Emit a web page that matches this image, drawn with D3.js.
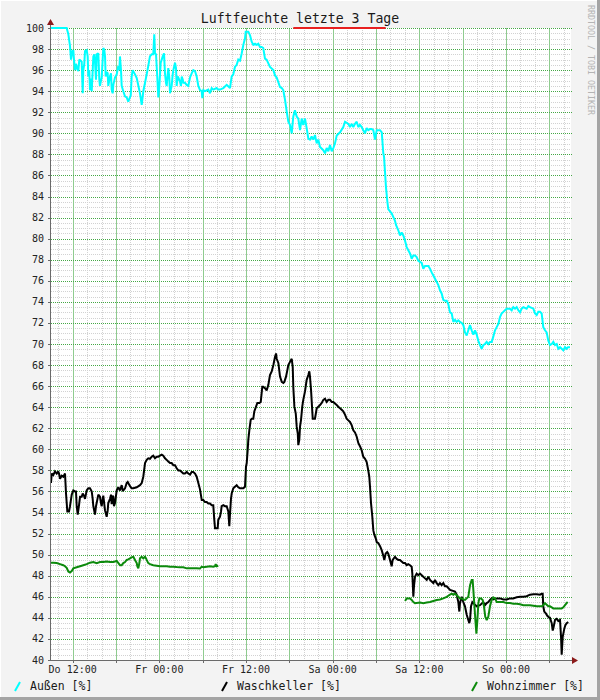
<!DOCTYPE html>
<html><head><meta charset="utf-8">
<script src="https://cdn.jsdelivr.net/npm/d3@7"></script>
<style>html,body{margin:0;padding:0;background:#f3f3f3;}svg{display:block;}</style>
</head><body>
<script>
// ---- data (hours since Do 09:00, value in %) ----
const title = "Luftfeuchte letzte 3 Tage";
const yTicks = [40,42,44,46,48,50,52,54,56,58,60,62,64,66,68,70,72,74,76,78,80,82,84,86,88,90,92,94,96,98,100];
const dayNames = ["So","Mo","Di","Mi","Do","Fr","Sa"];
const seriesNames = ["Außen [%]", "Waschkeller [%]", "Wohnzimmer [%]"];
const seriesColors = ["#00ffff", "#000000", "#0c8a0c"];
const markerColor = "#e82020";

const aussen = [[0,100],[2.17,100],[2.40,99.4],[2.63,98.3],[2.77,97.0],[2.95,97.8],[3.09,97.9],[3.18,97.0],[3.32,96.0],[3.46,96.6],[3.64,96.1],[3.78,95.9],[3.92,97.0],[4.25,96.8],[4.39,93.8],[4.47,96.0],[4.61,96.6],[4.71,97.8],[4.94,97.9],[5.08,97.3],[5.16,95.4],[5.30,96.0],[5.40,94.1],[5.50,95.2],[5.64,94.0],[5.86,97.3],[6.00,97.5],[6.09,96.8],[6.23,95.1],[6.33,97.5],[6.55,97.6],[6.69,95.1],[6.78,94.5],[6.92,95.0],[7.02,95.3],[7.24,98.1],[7.38,97.9],[7.48,97.3],[7.57,95.4],[7.71,95.8],[7.85,95.7],[7.93,94.5],[8.17,95.4],[8.31,95.7],[8.40,94.15],[8.54,93.8],[8.63,94.6],[8.86,95.3],[9.10,95.6],[9.32,96.4],[9.46,96.0],[9.55,97.3],[9.69,96.0],[9.79,94.5],[10.01,94.0],[10.25,93.5],[10.48,93.4],[10.70,93.0],[11.04,93.6],[11.17,95.4],[11.31,96.0],[11.63,95.6],[11.87,95.25],[12.32,93.8],[12.56,92.7],[12.70,93.5],[12.78,94.0],[13.02,94.8],[13.25,95.6],[13.47,96.4],[13.70,97.3],[13.94,97.5],[14.16,97.5],[14.30,99.4],[14.40,97.6],[14.54,97.5],[14.72,95.3],[14.86,93.4],[15.00,94.5],[15.19,96.7],[15.33,97.0],[15.47,97.3],[15.65,97.6],[15.78,95.7],[15.92,94.8],[16.02,94.5],[16.16,95.6],[16.24,96.2],[16.38,95.3],[16.48,93.8],[16.71,94.5],[16.85,95.6],[16.94,96.0],[17.17,96.7],[17.31,96.2],[17.40,94.5],[17.54,95.4],[17.63,95.3],[17.86,94.9],[18.00,94.5],[18.10,95.4],[18.24,95.1],[18.33,94.8],[18.55,94.8],[18.79,94.6],[19.01,94.5],[19.25,95.3],[19.48,95.7],[19.70,96.0],[19.94,95.9],[20.17,95.4],[20.40,94.5],[20.63,94.1],[20.87,94.0],[20.95,93.35],[21.09,94.1],[21.32,94.0],[21.78,94.15],[22.02,93.8],[22.25,94.3],[22.47,94.15],[22.94,94.3],[23.16,94.15],[23.40,94.15],[23.86,94.3],[24.33,94.6],[24.78,94.3],[25.02,95.4],[25.24,95.6],[25.47,96.3],[25.71,96.5],[25.93,97.0],[26.17,96.9],[26.41,97.6],[26.63,98.4],[26.86,99.0],[26.96,99.65],[27.32,99.65],[27.56,99.3],[27.79,98.7],[28.01,98.4],[28.25,98.5],[28.48,98.4],[28.70,98.5],[28.94,98.2],[29.17,98.2],[29.39,98.1],[29.63,97.1],[29.86,97.0],[30.32,96.3],[30.79,96.0],[31.02,95.5],[31.25,95.3],[31.71,94.4],[31.95,94.3],[32.16,94.1],[32.40,93.2],[32.64,92.05],[32.86,91.1],[33.09,90.8],[33.33,90.0],[33.55,91.6],[33.78,92.2],[34.02,91.6],[34.24,91.4],[34.48,90.3],[34.71,91.4],[34.93,90.8],[35.17,91.4],[35.40,90.5],[35.63,89.5],[35.86,89.4],[36.09,89.7],[36.32,89.4],[36.55,89.84],[36.79,89.05],[37.01,89.4],[37.25,88.7],[37.71,88.4],[37.94,88.1],[38.17,88.6],[38.40,88.3],[38.63,88.9],[38.87,88.3],[39.09,88.6],[39.32,89.05],[39.56,89.8],[40.02,90.1],[40.47,90.6],[40.71,91.1],[41.17,90.9],[41.40,90.6],[41.64,90.9],[41.86,90.6],[42.09,90.9],[42.33,91.1],[42.55,90.6],[42.78,90.8],[43.02,90.6],[43.24,90.3],[43.48,90.0],[43.71,90.5],[43.93,90.3],[44.17,90.4],[44.41,90.4],[44.63,90.3],[44.86,89.4],[45.10,90.3],[45.56,90.3],[45.80,90.1],[46.01,88.1],[46.11,87.8],[46.38,84.9],[46.56,83.6],[46.70,82.8],[46.94,82.6],[47.17,82.4],[47.40,82.05],[47.63,81.7],[47.77,81.3],[48.09,80.8],[48.32,80.3],[48.55,80.6],[48.78,80.3],[49.02,79.8],[49.25,79.2],[49.47,78.9],[49.71,78.6],[49.94,78.1],[50.17,78.4],[50.40,78.4],[50.63,78.25],[50.86,77.9],[51.09,77.8],[51.33,77.7],[51.55,77.15],[51.79,77.4],[52.24,77.4],[52.48,77.15],[52.71,76.8],[52.94,76.5],[53.17,76.2],[53.40,75.9],[53.63,75.6],[53.86,75.1],[54.09,74.8],[54.32,74.2],[54.55,74.1],[54.79,74.1],[55.01,73.8],[55.25,73.0],[55.48,72.9],[55.71,72.1],[55.94,72.3],[56.17,72.1],[56.40,72.25],[56.63,72.1],[56.87,72.0],[57.09,71.8],[57.32,71.1],[57.56,70.8],[57.78,71.3],[58.02,71.8],[58.25,71.3],[58.48,70.9],[58.71,71.3],[58.94,70.9],[59.17,70.3],[59.40,69.9],[59.63,69.55],[59.86,69.9],[60.09,70.0],[60.33,70.2],[60.55,70.0],[60.78,70.2],[61.02,70.2],[61.24,70.7],[61.48,71.3],[61.71,71.6],[61.94,71.9],[62.17,72.55],[62.40,72.9],[62.63,73.05],[62.86,73.2],[63.09,73.35],[63.55,73.35],[63.79,73.2],[64.01,73.5],[64.25,73.35],[64.48,73.5],[64.71,73.2],[64.94,73.0],[65.17,73.35],[65.40,73.5],[65.86,73.35],[66.09,73.6],[66.32,73.5],[66.79,73.35],[67.02,72.9],[67.25,72.75],[67.47,73.05],[67.71,73.05],[67.94,72.9],[68.16,71.6],[68.40,71.3],[68.63,71.1],[68.86,70.3],[69.09,69.9],[69.33,70.0],[69.55,70.2],[69.79,69.9],[70.02,70.0],[70.24,69.55],[70.48,69.7],[70.71,69.55],[70.94,69.4],[71.17,69.7],[71.40,69.55],[71.59,69.7],[71.86,69.7]];

const waschkeller = [[0,56.8],[0.10,57.7],[0.32,57.55],[0.55,57.9],[0.79,57.7],[1.01,57.9],[1.11,57.7],[1.25,57.2],[1.48,57.5],[1.70,57.4],[1.94,57.7],[2.08,55.8],[2.26,54.1],[2.49,54.1],[2.63,54.6],[2.87,55.7],[3.09,56.1],[3.32,56.0],[3.46,56.0],[3.56,54.6],[3.70,53.8],[3.88,54.7],[4.02,55.5],[4.25,55.5],[4.39,55.8],[4.57,55.6],[4.71,55.3],[4.94,56.1],[5.16,56.3],[5.40,56.3],[5.64,56.0],[5.77,55.3],[5.86,54.6],[6.09,53.8],[6.23,54.6],[6.41,55.2],[6.55,55.7],[6.78,55.5],[6.92,54.9],[7.02,54.6],[7.16,55.3],[7.24,55.6],[7.48,54.2],[7.71,53.6],[7.85,54.2],[7.93,54.9],[8.17,55.3],[8.31,55.7],[8.40,54.8],[8.54,55.6],[8.63,55.5],[8.72,54.6],[8.86,54.9],[9.10,56.1],[9.32,56.4],[9.55,56.1],[9.69,56.4],[9.79,56.6],[9.93,56.1],[10.01,56.1],[10.25,56.3],[10.48,56.8],[10.62,56.9],[10.70,56.8],[10.94,56.5],[11.17,56.3],[11.40,56.3],[11.87,56.4],[12.32,56.6],[12.56,56.8],[12.78,57.4],[13.02,58.7],[13.25,59.0],[13.47,59.15],[13.71,59.1],[13.94,59.3],[14.16,59.4],[14.40,59.15],[14.63,59.3],[14.86,59.3],[15.09,59.4],[15.33,59.5],[15.55,59.4],[15.78,59.15],[16.02,59.0],[16.24,58.85],[16.48,58.7],[16.71,58.7],[16.94,58.5],[17.17,58.5],[17.40,58.2],[17.63,58.0],[17.86,58.0],[18.10,57.85],[18.32,57.7],[18.55,57.7],[18.79,57.85],[19.01,57.7],[19.25,57.6],[19.48,57.85],[19.70,57.85],[19.94,57.7],[20.17,57.4],[20.40,56.8],[20.63,56.2],[20.87,55.2],[21.09,55.2],[21.32,55.0],[21.56,55.0],[21.78,54.85],[22.02,54.85],[22.25,54.7],[22.47,54.7],[22.61,53.3],[22.71,52.5],[22.94,52.5],[23.08,52.5],[23.16,53.3],[23.40,53.6],[23.54,54.1],[23.63,54.6],[23.86,54.7],[24.09,54.6],[24.33,54.6],[24.55,54.1],[24.69,52.7],[24.78,53.8],[24.92,55.3],[25.02,55.8],[25.24,56.3],[25.47,56.45],[25.71,56.6],[25.93,56.4],[26.17,56.3],[26.63,56.3],[26.86,56.45],[27.00,58.35],[27.10,58.7],[27.24,60.0],[27.32,60.9],[27.46,61.8],[27.65,62.8],[27.79,62.9],[28.01,62.9],[28.15,63.6],[28.39,64.05],[28.57,64.4],[28.85,64.4],[29.04,64.5],[29.26,65.95],[29.39,65.95],[29.63,65.8],[29.86,65.6],[30.09,66.1],[30.32,67.05],[30.56,67.4],[30.79,68.0],[31.02,68.8],[31.16,69.1],[31.25,68.6],[31.48,68.2],[31.71,66.9],[31.95,66.4],[32.17,66.3],[32.31,66.4],[32.54,66.9],[32.72,67.5],[32.86,68.0],[33.09,68.3],[33.33,68.6],[33.47,67.8],[33.55,65.9],[33.70,64.05],[33.89,63.4],[34.02,62.15],[34.17,61.5],[34.24,60.4],[34.38,60.9],[34.48,62.15],[34.62,62.8],[34.79,64.05],[34.93,64.7],[35.17,65.5],[35.40,66.6],[35.63,67.05],[35.77,67.4],[35.86,66.9],[36.01,65.6],[36.14,64.05],[36.24,62.9],[36.42,62.9],[36.55,62.9],[36.79,63.9],[37.01,64.05],[37.25,64.2],[37.48,64.4],[37.71,64.7],[37.94,64.8],[38.17,64.5],[38.40,64.7],[38.63,64.7],[38.87,64.5],[39.09,64.5],[39.32,64.35],[39.56,64.2],[39.78,64.05],[40.02,63.9],[40.25,63.75],[40.47,63.6],[40.71,63.3],[40.94,62.9],[41.17,62.75],[41.40,62.6],[41.63,62.3],[41.86,61.8],[42.09,61.6],[42.33,61.2],[42.55,60.6],[42.78,60.3],[43.02,59.9],[43.24,59.3],[43.48,59.1],[43.71,58.8],[43.93,58.0],[44.07,57.4],[44.17,56.45],[44.31,54.9],[44.49,53.6],[44.63,52.3],[44.77,51.9],[44.96,51.55],[45.10,51.2],[45.33,51.1],[45.56,50.8],[45.80,50.4],[46.01,49.9],[46.15,49.5],[46.34,50.1],[46.56,50.25],[46.70,50.1],[46.94,49.5],[47.17,48.9],[47.31,49.5],[47.63,49.8],[47.87,49.6],[48.09,49.5],[48.32,49.5],[48.55,49.35],[48.78,49.2],[49.02,49.2],[49.25,49.0],[49.47,49.1],[49.71,49.0],[49.94,48.85],[50.03,48.2],[50.17,46.0],[50.26,47.0],[50.40,47.9],[50.63,48.2],[50.86,48.05],[51.09,48.2],[51.33,48.05],[51.55,47.9],[51.79,47.75],[52.02,47.6],[52.24,47.9],[52.48,47.6],[52.71,47.45],[52.94,47.3],[53.17,47.6],[53.40,47.3],[53.63,47.1],[53.86,47.3],[54.09,47.1],[54.32,47.3],[54.55,47.0],[54.79,47.0],[55.25,46.65],[55.94,46.5],[56.17,46.2],[56.40,45.5],[56.54,44.6],[56.63,45.4],[56.78,45.8],[56.87,46.0],[57.09,45.5],[57.32,45.1],[57.56,44.3],[57.78,43.8],[57.92,43.5],[58.02,43.8],[58.16,45.1],[58.34,45.5],[58.48,45.4],[58.71,45.25],[58.94,45.1],[59.40,45.2],[59.86,45.5],[60.09,45.2],[60.33,45.4],[60.55,45.5],[60.78,45.7],[61.02,45.85],[61.24,45.75],[61.71,45.85],[62.17,45.85],[62.63,45.75],[63.09,45.75],[63.55,45.85],[63.99,45.85],[64.48,45.95],[64.94,46.0],[65.40,46.0],[65.86,46.05],[66.32,46.2],[66.79,46.25],[67.25,46.25],[67.71,46.2],[67.94,46.3],[68.08,46.3],[68.16,45.1],[68.30,44.6],[68.54,44.4],[68.72,44.2],[68.86,44.1],[69.00,44.0],[69.09,44.0],[69.33,43.5],[69.47,42.8],[69.55,43.0],[69.79,43.8],[70.02,43.9],[70.15,43.8],[70.24,43.7],[70.48,43.8],[70.62,42.2],[70.71,40.5],[70.85,42.2],[70.94,42.5],[71.08,43.0],[71.22,43.3],[71.40,43.5],[71.63,43.6]];

const wohnzimmer = [[0,49.24],[0.32,49.24],[0.79,49.2],[1.25,49.1],[1.70,49.0],[1.94,48.9],[2.17,48.75],[2.40,48.4],[2.63,48.3],[2.87,48.45],[3.09,48.7],[3.56,48.8],[4.02,48.9],[4.47,49.0],[4.94,49.1],[5.40,49.24],[5.86,49.3],[6.33,49.2],[6.78,49.3],[7.24,49.3],[7.71,49.35],[8.17,49.3],[8.63,49.3],[9.10,49.4],[9.55,49.0],[9.79,49.0],[10.01,49.2],[10.25,49.3],[10.48,49.5],[10.70,49.55],[10.94,49.65],[11.17,49.75],[11.40,49.8],[11.63,49.5],[11.87,49.2],[11.95,48.9],[12.09,48.7],[12.23,49.2],[12.32,49.65],[12.56,49.8],[12.78,49.65],[13.02,49.8],[13.16,49.65],[13.25,49.5],[13.47,49.2],[13.71,49.1],[14.16,49.0],[14.63,48.95],[15.09,48.9],[15.55,48.9],[16.02,48.9],[16.48,48.86],[16.94,48.86],[17.40,48.82],[17.86,48.8],[18.32,48.8],[18.79,48.7],[19.25,48.7],[19.70,48.7],[20.17,48.7],[20.63,48.68],[20.87,48.86],[21.09,48.8],[21.56,48.86],[22.02,48.9],[22.47,48.86],[22.71,48.9],[22.80,49.1],[22.94,48.9],[23.16,48.95],[23.3,null],[48.9,null],[49.02,45.6],[49.25,45.85],[49.71,45.85],[49.94,45.7],[50.17,45.5],[50.40,45.4],[51.09,45.45],[51.55,45.4],[52.02,45.45],[52.48,45.5],[52.94,45.6],[53.40,45.7],[53.86,45.75],[54.32,45.85],[54.79,46.0],[55.01,46.1],[55.25,46.2],[55.48,46.3],[55.71,46.2],[55.94,46.3],[56.17,46.15],[56.40,46.0],[56.63,45.85],[56.87,45.85],[57.09,45.75],[57.32,45.7],[57.56,45.85],[57.78,46.0],[58.02,47.1],[58.25,47.6],[58.38,47.6],[58.48,46.65],[58.63,45.1],[58.76,43.8],[58.90,42.5],[59.04,43.8],[59.17,45.4],[59.31,45.85],[59.54,45.85],[59.77,45.7],[59.95,45.1],[60.13,44.1],[60.33,43.8],[60.55,44.1],[60.78,45.1],[61.02,45.7],[61.24,45.95],[61.48,45.85],[61.71,45.5],[62.17,45.5],[62.63,45.5],[63.09,45.4],[63.55,45.4],[64.01,45.35],[64.48,45.35],[64.94,45.3],[65.40,45.2],[65.86,45.2],[66.32,45.2],[66.79,45.15],[67.25,45.1],[67.71,45.1],[67.94,45.1],[68.16,45.2],[68.40,45.4],[68.63,45.25],[68.86,45.1],[69.09,45.1],[69.33,45.0],[69.55,44.9],[70.02,44.9],[70.48,44.9],[70.71,44.9],[70.94,45.0],[71.17,45.2],[71.40,45.4],[71.54,45.5]];

const marker = [[33.55,100],[46.34,100]];

// ---- layout ----
const W = 600, H = 700;
const pLeft = 51, pRight = 571, pTop = 28, pBottom = 660;
const tStart = new Date(2024, 2, 7, 9, 0, 0); // Thursday 09:00
const tEnd = new Date(tStart.getTime() + 72 * 3600e3);
const toDate = h => new Date(tStart.getTime() + h * 3600e3);

const x = d3.scaleTime().domain([tStart, tEnd]).range([pLeft, pRight]);
const y = d3.scaleLinear().domain([40, 100]).range([pBottom, pTop]);

const svg = d3.select("body").append("svg").attr("width", W).attr("height", H);
const mono = "'DejaVu Sans Mono', monospace";

// background + 3D border
svg.append("rect").attr("width", W).attr("height", H).attr("fill", "#f3f3f3");
svg.append("rect").attr("x", W - 3).attr("y", 0).attr("width", 3).attr("height", H).attr("fill", "#a4a4a4");
svg.append("rect").attr("x", 0).attr("y", H - 3).attr("width", W).attr("height", 3).attr("fill", "#a4a4a4");
svg.append("rect").attr("x", 0).attr("y", 0).attr("width", W - 3).attr("height", 1).attr("fill", "#ffffff");
svg.append("rect").attr("x", 0).attr("y", 0).attr("width", 1).attr("height", H - 3).attr("fill", "#ffffff");

// canvas
svg.append("rect").attr("x", pLeft).attr("y", pTop).attr("width", pRight - pLeft).attr("height", pBottom - pTop).attr("fill", "#ffffff");

const px = v => Math.round(v);
const gMinor = svg.append("g").attr("shape-rendering", "crispEdges");
const gMajor = svg.append("g").attr("shape-rendering", "crispEdges");

// minor grid (every 2 h / every 0.5 %)
const minorX = d3.timeHour.every(2).range(tStart, tEnd);
gMinor.selectAll("line.mx").data(minorX).join("line").attr("class", "mx")
  .attr("x1", d => px(x(d)) + 0.5).attr("x2", d => px(x(d)) + 0.5)
  .attr("y1", pTop).attr("y2", pBottom)
  .attr("stroke", "#d2d2d2").attr("stroke-width", 1).attr("stroke-dasharray", "1,1");
const minorY = d3.range(40, 100.01, 0.5);
gMinor.selectAll("line.my").data(minorY).join("line").attr("class", "my")
  .attr("x1", pLeft).attr("x2", pRight)
  .attr("y1", d => px(y(d)) + 0.5).attr("y2", d => px(y(d)) + 0.5)
  .attr("stroke", "#d2d2d2").attr("stroke-width", 1).attr("stroke-dasharray", "1,1");

// major grid (every 6 h / every 2 %)
const majorX = d3.timeHour.every(6).range(tStart, tEnd);
gMajor.selectAll("line.Mx").data(majorX).join("line").attr("class", "Mx")
  .attr("x1", d => px(x(d)) + 0.5).attr("x2", d => px(x(d)) + 0.5)
  .attr("y1", pTop).attr("y2", pBottom)
  .attr("stroke", "#8fcb8f").attr("stroke-width", 1);
gMajor.selectAll("line.My").data(yTicks).join("line").attr("class", "My")
  .attr("x1", pLeft).attr("x2", pRight + 1)
  .attr("y1", d => px(y(d)) + 0.5).attr("y2", d => px(y(d)) + 0.5)
  .attr("stroke", "#46a846").attr("stroke-width", 1).attr("stroke-dasharray", "1,1");

// series
const line = d3.line()
  .defined(d => d[1] !== null)
  .x(d => x(toDate(d[0])))
  .y(d => y(d[1]));

const series = [aussen, waschkeller, wohnzimmer];
series.forEach((s, i) => {
  svg.append("path").datum(s).attr("d", line)
    .attr("fill", "none").attr("stroke", seriesColors[i])
    .attr("stroke-width", 2).attr("stroke-linejoin", "miter").attr("stroke-miterlimit", 2);
});
svg.append("path").datum(marker).attr("d", line)
  .attr("fill", "none").attr("stroke", markerColor).attr("stroke-width", 2);

// axes
const axisColor = "#6a6a6a";
const gAxis = svg.append("g").attr("shape-rendering", "crispEdges").attr("stroke", axisColor).attr("stroke-width", 1);
gAxis.append("line").attr("x1", pLeft - 0.5).attr("x2", pLeft - 0.5).attr("y1", pBottom).attr("y2", pTop - 4);
gAxis.append("line").attr("x1", pLeft - 1).attr("x2", pRight + 3).attr("y1", pBottom + 0.5).attr("y2", pBottom + 0.5);
gAxis.selectAll("line.ty").data(yTicks).join("line").attr("class", "ty")
  .attr("x1", pLeft - 3).attr("x2", pLeft).attr("y1", d => px(y(d)) + 0.5).attr("y2", d => px(y(d)) + 0.5);
gAxis.selectAll("line.tx").data(majorX).join("line").attr("class", "tx")
  .attr("x1", d => px(x(d)) + 0.5).attr("x2", d => px(x(d)) + 0.5).attr("y1", pBottom).attr("y2", pBottom + 3);
// arrows
svg.append("path").attr("d", `M${pLeft - 4},${pTop - 3} L${pLeft + 3},${pTop - 3} L${pLeft - 0.5},${pTop - 9} Z`).attr("fill", "#8b1a1a");
svg.append("path").attr("d", `M${pRight + 1},${pBottom - 3} L${pRight + 1},${pBottom + 4} L${pRight + 7},${pBottom + 0.5} Z`).attr("fill", "#8b1a1a");

// y labels
svg.selectAll("text.yl").data(yTicks).join("text").attr("class", "yl")
  .attr("x", 44).attr("y", d => y(d) + 3.5)
  .attr("text-anchor", "end").attr("font-family", mono).attr("font-size", "10px").attr("fill", "#222")
  .text(d => d);

// x labels
const labelTicks = d3.timeHour.every(12).range(tStart, tEnd);
const fmt = d => dayNames[d.getDay()] + " " + d3.timeFormat("%H:%M")(d);
svg.selectAll("text.xl").data(labelTicks).join("text").attr("class", "xl")
  .attr("x", d => x(d)).attr("y", 673)
  .attr("text-anchor", "middle").attr("font-family", mono).attr("font-size", "10px").attr("fill", "#222")
  .text(fmt);

// title
svg.append("text").attr("x", 300).attr("y", 23).attr("text-anchor", "middle")
  .attr("font-family", mono).attr("font-size", "13.2px").attr("fill", "#1a1a1a").text(title);

// watermark
svg.append("text").attr("transform", "translate(588,5) rotate(90)")
  .attr("font-family", mono).attr("font-size", "8.3px").attr("fill", "#b4b4b4").text("RRDTOOL / TOBI OETIKER");

// legend
const legendX = [15, 222, 472];
seriesNames.forEach((n, i) => {
  const lx = legendX[i];
  svg.append("line").attr("x1", lx).attr("y1", 691).attr("x2", lx + 5).attr("y2", 682)
    .attr("stroke", seriesColors[i]).attr("stroke-width", 2);
  svg.append("text").attr("x", lx + 15).attr("y", 690)
    .attr("font-family", mono).attr("font-size", "11.5px").attr("fill", "#1a1a1a").text(n);
});
</script>
</body></html>
